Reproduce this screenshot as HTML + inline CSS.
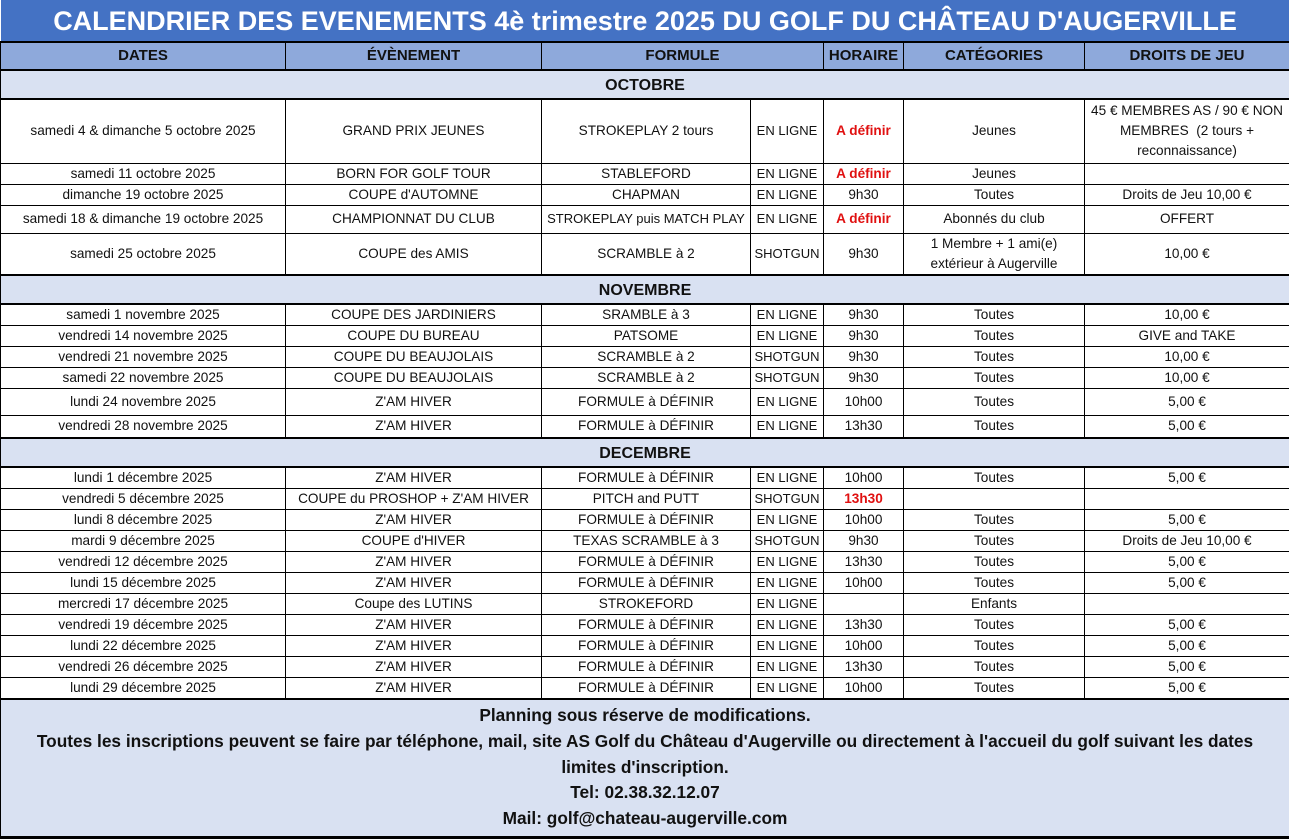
<!DOCTYPE html>
<html><head><meta charset="utf-8">
<style>
html,body{margin:0;padding:0;background:#fff;}
body{width:1289px;height:840px;overflow:hidden;font-family:"Liberation Sans",sans-serif;}
table{border-collapse:collapse;table-layout:fixed;width:1289px;}
td{border:1px solid #000;text-align:center;font-size:13.6px;color:#111;padding:0 1px;overflow:hidden;white-space:nowrap;line-height:20px;}
.title td{background:#4472C4;color:#fff;font-weight:bold;font-size:27px;height:41px;border:none;border-bottom:2px solid #000;}
.hdr td{background:#8EA9DB;font-weight:bold;font-size:15px;height:26px;border-bottom:2px solid #000;}
.mon td{background:#D9E1F2;font-weight:bold;font-size:16px;height:27px;line-height:24px;border-top:2px solid #000;border-bottom:2px solid #000;vertical-align:bottom;}
.r td{height:20px;}
.red{color:#E01010;font-weight:bold;}
.wrap{white-space:normal;}
.caps{font-size:13px;}
.foot td{background:#D9E1F2;font-weight:bold;font-size:17.3px;line-height:25.7px;height:136px;border-top:2px solid #000;border-bottom:3px solid #000;white-space:normal;}
</style></head><body>
<table>
<colgroup><col style="width:285px"><col style="width:256px"><col style="width:209px"><col style="width:73px"><col style="width:80px"><col style="width:181px"><col style="width:205px"></colgroup>
<tr class="title"><td colspan="7">CALENDRIER DES EVENEMENTS 4è trimestre 2025 DU GOLF DU CHÂTEAU D'AUGERVILLE</td></tr>
<tr class="hdr"><td>DATES</td><td>ÉVÈNEMENT</td><td colspan="2">FORMULE</td><td>HORAIRE</td><td>CATÉGORIES</td><td>DROITS DE JEU</td></tr>
<tr class="mon"><td colspan="7">OCTOBRE</td></tr>
<tr style="height:64px"><td>samedi 4 &amp; dimanche 5 octobre 2025</td><td>GRAND PRIX JEUNES</td><td>STROKEPLAY 2 tours</td><td class="caps">EN LIGNE</td><td class="red">A définir</td><td>Jeunes</td><td class="wrap">45 € MEMBRES AS / 90 € NON MEMBRES&nbsp; (2 tours + reconnaissance)</td></tr>
<tr class="r"><td>samedi 11 octobre 2025</td><td>BORN FOR GOLF TOUR</td><td>STABLEFORD</td><td class="caps">EN LIGNE</td><td class="red">A définir</td><td>Jeunes</td><td></td></tr>
<tr class="r"><td>dimanche 19 octobre 2025</td><td>COUPE d'AUTOMNE</td><td>CHAPMAN</td><td class="caps">EN LIGNE</td><td>9h30</td><td>Toutes</td><td>Droits de Jeu 10,00 €</td></tr>
<tr style="height:28px"><td>samedi 18 &amp; dimanche 19 octobre 2025</td><td>CHAMPIONNAT DU CLUB</td><td class="caps">STROKEPLAY puis MATCH PLAY</td><td class="caps">EN LIGNE</td><td class="red">A définir</td><td>Abonnés du club</td><td>OFFERT</td></tr>
<tr style="height:42px"><td>samedi 25 octobre 2025</td><td>COUPE des AMIS</td><td>SCRAMBLE à 2</td><td class="caps">SHOTGUN</td><td>9h30</td><td>1 Membre + 1 ami(e)<br>extérieur à Augerville</td><td>10,00 €</td></tr>
<tr class="mon"><td colspan="7">NOVEMBRE</td></tr>
<tr class="r"><td>samedi 1 novembre 2025</td><td>COUPE DES JARDINIERS</td><td>SRAMBLE à 3</td><td class="caps">EN LIGNE</td><td>9h30</td><td>Toutes</td><td>10,00 €</td></tr>
<tr class="r"><td>vendredi 14 novembre 2025</td><td>COUPE DU BUREAU</td><td>PATSOME</td><td class="caps">EN LIGNE</td><td>9h30</td><td>Toutes</td><td>GIVE and TAKE</td></tr>
<tr class="r"><td>vendredi 21 novembre 2025</td><td>COUPE DU BEAUJOLAIS</td><td>SCRAMBLE à 2</td><td class="caps">SHOTGUN</td><td>9h30</td><td>Toutes</td><td>10,00 €</td></tr>
<tr class="r"><td>samedi 22 novembre 2025</td><td>COUPE DU BEAUJOLAIS</td><td>SCRAMBLE à 2</td><td class="caps">SHOTGUN</td><td>9h30</td><td>Toutes</td><td>10,00 €</td></tr>
<tr style="height:27px"><td>lundi 24 novembre 2025</td><td>Z'AM HIVER</td><td>FORMULE à DÉFINIR</td><td class="caps">EN LIGNE</td><td>10h00</td><td>Toutes</td><td>5,00 €</td></tr>
<tr class="r" style="height:22px"><td>vendredi 28 novembre 2025</td><td>Z'AM HIVER</td><td>FORMULE à DÉFINIR</td><td class="caps">EN LIGNE</td><td>13h30</td><td>Toutes</td><td>5,00 €</td></tr>
<tr class="mon"><td colspan="7">DECEMBRE</td></tr>
<tr class="r"><td>lundi 1 décembre 2025</td><td>Z'AM HIVER</td><td>FORMULE à DÉFINIR</td><td class="caps">EN LIGNE</td><td>10h00</td><td>Toutes</td><td>5,00 €</td></tr>
<tr class="r"><td>vendredi 5 décembre 2025</td><td>COUPE du PROSHOP + Z'AM HIVER</td><td>PITCH and PUTT</td><td class="caps">SHOTGUN</td><td class="red">13h30</td><td></td><td></td></tr>
<tr class="r"><td>lundi 8 décembre 2025</td><td>Z'AM HIVER</td><td>FORMULE à DÉFINIR</td><td class="caps">EN LIGNE</td><td>10h00</td><td>Toutes</td><td>5,00 €</td></tr>
<tr class="r"><td>mardi 9 décembre 2025</td><td>COUPE d'HIVER</td><td>TEXAS SCRAMBLE à 3</td><td class="caps">SHOTGUN</td><td>9h30</td><td>Toutes</td><td>Droits de Jeu 10,00 €</td></tr>
<tr class="r"><td>vendredi 12 décembre 2025</td><td>Z'AM HIVER</td><td>FORMULE à DÉFINIR</td><td class="caps">EN LIGNE</td><td>13h30</td><td>Toutes</td><td>5,00 €</td></tr>
<tr class="r"><td>lundi 15 décembre 2025</td><td>Z'AM HIVER</td><td>FORMULE à DÉFINIR</td><td class="caps">EN LIGNE</td><td>10h00</td><td>Toutes</td><td>5,00 €</td></tr>
<tr class="r"><td>mercredi 17 décembre 2025</td><td>Coupe des LUTINS</td><td>STROKEFORD</td><td class="caps">EN LIGNE</td><td></td><td>Enfants</td><td></td></tr>
<tr class="r"><td>vendredi 19 décembre 2025</td><td>Z'AM HIVER</td><td>FORMULE à DÉFINIR</td><td class="caps">EN LIGNE</td><td>13h30</td><td>Toutes</td><td>5,00 €</td></tr>
<tr class="r"><td>lundi 22 décembre 2025</td><td>Z'AM HIVER</td><td>FORMULE à DÉFINIR</td><td class="caps">EN LIGNE</td><td>10h00</td><td>Toutes</td><td>5,00 €</td></tr>
<tr class="r"><td>vendredi 26 décembre 2025</td><td>Z'AM HIVER</td><td>FORMULE à DÉFINIR</td><td class="caps">EN LIGNE</td><td>13h30</td><td>Toutes</td><td>5,00 €</td></tr>
<tr class="r"><td>lundi 29 décembre 2025</td><td>Z'AM HIVER</td><td>FORMULE à DÉFINIR</td><td class="caps">EN LIGNE</td><td>10h00</td><td>Toutes</td><td>5,00 €</td></tr>
<tr class="foot"><td colspan="7">Planning sous réserve de modifications.<br>Toutes les inscriptions peuvent se faire par téléphone, mail, site AS Golf du Château d'Augerville ou directement à l'accueil du golf suivant les dates<br>limites d'inscription.<br>Tel: 02.38.32.12.07<br>Mail: golf@chateau-augerville.com</td></tr>
</table>
</body></html>
